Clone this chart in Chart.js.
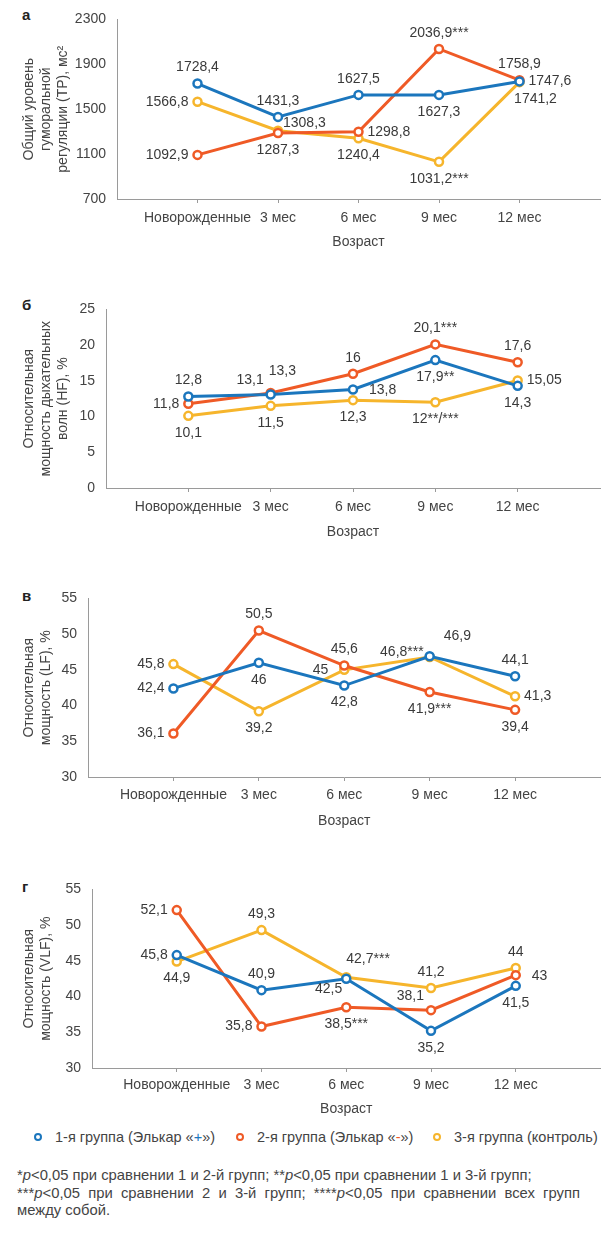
<!DOCTYPE html>
<html>
<head>
<meta charset="utf-8">
<script src="https://cdn.jsdelivr.net/npm/chart.js@4.4.0/dist/chart.umd.min.js"></script>
<style>
  body { margin: 0; background: #fff; font-family: "Liberation Sans", Arial, sans-serif; color: #444; }
  #page { position: relative; width: 607px; height: 1246px; overflow: hidden; }
  canvas { position: absolute; left: 0; }
  .letter { position: absolute; left: 22px; font-weight: bold; font-size: 15px; line-height: 18px; color: #222; }
  .legend { position: absolute; top: 1128px; left: 0; width: 607px; height: 18px; font-size: 14.5px; line-height: 18px; }
  .legend .mark { position: absolute; top: 5px; width: 4px; height: 4px; border-radius: 50%; border: 2.5px solid; background: #fff; }
  .legend .txt { position: absolute; top: 0; white-space: nowrap; }
  .note { position: absolute; left: 17px; width: 563px; font-size: 14.8px; line-height: 18px; white-space: nowrap; }
  .note.just { white-space: normal; text-align: justify; text-align-last: justify; }
</style>
</head>
<body>
<div id="page"></div>
<script>
// categories and series
const categories = ['Новорожденные', '3 мес', '6 мес', '9 мес', '12 мес'];
const groupNames = ['1-я группа (Элькар «+»)', '2-я группа (Элькар «-»)', '3-я группа (контроль)'];

// а: общий уровень гуморальной регуляции (ТР), мс2
const trGroup1 = [1728.4, 1431.3, 1627.5, 1627.3, 1747.6];
const trGroup2 = [1092.9, 1287.3, 1298.8, 2036.9, 1758.9];
const trGroup3 = [1566.8, 1308.3, 1240.4, 1031.2, 1741.2];
const trMarks = [['', '', '', '', ''], ['', '', '', '***', ''], ['', '', '', '***', '']];
const trTicks = [700, 1100, 1500, 1900, 2300];

// б: HF, %
const hfGroup1 = [12.8, 13.1, 13.8, 17.9, 14.3];
const hfGroup2 = [11.8, 13.3, 16, 20.1, 17.6];
const hfGroup3 = [10.1, 11.5, 12.3, 12, 15.05];
const hfMarks = [['', '', '', '**', ''], ['', '', '', '***', ''], ['', '', '', '**/***', '']];
const hfTicks = [0, 5, 10, 15, 20, 25];

// в: LF, %
const lfGroup1 = [42.4, 46, 42.8, 46.9, 44.1];
const lfGroup2 = [36.1, 50.5, 45.6, 41.9, 39.4];
const lfGroup3 = [45.8, 39.2, 45, 46.8, 41.3];
const lfMarks = [['', '', '', '', ''], ['', '', '', '***', ''], ['', '', '', '***', '']];
const lfTicks = [30, 35, 40, 45, 50, 55];

// г: VLF, %
const vlfGroup1 = [45.8, 40.9, 42.5, 35.2, 41.5];
const vlfGroup2 = [52.1, 35.8, 38.5, 38.1, 43];
const vlfGroup3 = [44.9, 49.3, 42.7, 41.2, 44];
const vlfMarks = [['', '', '', '', ''], ['', '', '***', '', ''], ['', '', '***', '', '']];
const vlfTicks = [30, 35, 40, 45, 50, 55];

// styling
const colors = ['#1b76bd', '#ef5a26', '#f6b52c'];
const textColor = '#444';
const axisColor = '#9a9a9a';
const fontFamily = '"Liberation Sans", Arial, sans-serif';

// where each value label sits relative to its point
const labelOffsets = {
    t: { dx: 0, dy: -16, align: 'center' },
    b: { dx: 0, dy: 17, align: 'center' },
    l: { dx: -9, dy: 0, align: 'right' },
    r: { dx: 9, dy: 0, align: 'left' },
    l2: { dx: -16, dy: 0, align: 'right' },
    r2: { dx: 16, dy: 1, align: 'left' },
    tl: { dx: -7, dy: -14, align: 'right' },
    ru: { dx: 5, dy: -8, align: 'left' },
    br: { dx: 16, dy: 17, align: 'center' },
    bl: { dx: -4, dy: 10, align: 'right' },
};

const panels = [
    {
        letter: 'а', series: [trGroup1, trGroup2, trGroup3], marks: trMarks, ticks: trTicks,
        yTitle: ['Общий уровень', 'гуморальной', 'регуляции (ТР), мс²'],
        pos: [['t', 't', 't', 'b', 'r'], ['l', 'b', 'r', 't', 't'], ['l', 'ru', 'b', 'b', 'br']],
        box: { top: 18, bottom: 199, left: 117, tickY: 217, titleY: 243, letterY: 15 },
    },
    {
        letter: 'б', series: [hfGroup1, hfGroup2, hfGroup3], marks: hfMarks, ticks: hfTicks,
        yTitle: ['Относительная', 'мощность дыхательных', 'волн (HF), %'],
        pos: [['t', 'tl', 'r2', 'b', 'b'], ['l', [-2, -22, 'left'], 't', 't', 't'], ['b', 'b', 'b', 'b', 'r']],
        box: { top: 308, bottom: 488, left: 106, tickY: 506, titleY: 533, letterY: 305 },
    },
    {
        letter: 'в', series: [lfGroup1, lfGroup2, lfGroup3], marks: lfMarks, ticks: lfTicks,
        yTitle: ['Относительная', 'мощность (LF), %'],
        pos: [['l', 'b', 'b', [14, -20, 'left'], 't'], ['l', 't', 't', 'b', 'b'], ['l', 'b', 'l2', [-6, -5, 'right'], 'r']],
        box: { top: 597, bottom: 777, left: 88, tickY: 794, titleY: 822, letterY: 596 },
    },
    {
        letter: 'г', series: [vlfGroup1, vlfGroup2, vlfGroup3], marks: vlfMarks, ticks: vlfTicks,
        yTitle: ['Относительная', 'мощность (VLF), %'],
        pos: [['l', 't', 'bl', 'b', 'b'], ['l', 'l', 'b', 'tl', 'r2'], ['b', 't', [0, -18, 'left'], 't', 't']],
        box: { top: 888, bottom: 1068, left: 92, tickY: 1084, titleY: 1110, letterY: 887 },
    },
];

const fmt = v => String(v).replace('.', ',');

const pointLabels = {
    id: 'pointLabels',
    afterDatasetsDraw(chart) {
        const ctx = chart.ctx;
        ctx.save();
        ctx.font = '14px ' + fontFamily;
        ctx.fillStyle = '#3a3a3a';
        ctx.textBaseline = 'middle';
        chart.data.datasets.forEach((ds, di) => {
            chart.getDatasetMeta(di).data.forEach((pt, i) => {
                const p = ds.labelPos[i];
                const o = Array.isArray(p) ? { dx: p[0], dy: p[1], align: p[2] } : labelOffsets[p];
                ctx.textAlign = o.align;
                ctx.fillText(ds.labelText[i], pt.x + o.dx, pt.y + o.dy);
            });
        });
        ctx.restore();
    }
};

Chart.defaults.font.family = fontFamily;
Chart.defaults.color = textColor;

const page = document.getElementById('page');

panels.forEach(panel => {
    const b = panel.box;
    const canvasTop = b.top - 18;
    const height = Math.round(b.titleY + 8.4 - canvasTop);
    const xHeight = height - (b.bottom - canvasTop);

    const letter = document.createElement('div');
    letter.className = 'letter';
    letter.style.top = (b.letterY - 9) + 'px';
    letter.textContent = panel.letter;
    page.appendChild(letter);

    const canvas = document.createElement('canvas');
    canvas.width = 607;
    canvas.height = height;
    canvas.style.top = canvasTop + 'px';
    page.appendChild(canvas);

    const ticks = panel.ticks;
    new Chart(canvas.getContext('2d'), {
        type: 'line',
        data: {
            datasets: panel.series.map((values, si) => ({
                label: groupNames[si],
                data: values.map((v, i) => ({ x: i, y: v })),
                labelText: values.map((v, i) => fmt(v) + panel.marks[si][i]),
                labelPos: panel.pos[si],
                borderColor: colors[si],
                borderWidth: 3,
                pointBackgroundColor: '#fff',
                pointBorderColor: colors[si],
                pointBorderWidth: 2.5,
                pointRadius: 4,
                tension: 0,
                clip: false,
            })),
        },
        options: {
            responsive: false,
            animation: false,
            layout: { padding: { top: 18, left: 0, right: 0, bottom: 0 } },
            plugins: { legend: { display: false }, tooltip: { enabled: false } },
            scales: {
                x: {
                    type: 'linear',
                    min: -1,
                    max: categories.length,
                    afterFit: s => { s.height = xHeight; },
                    ticks: {
                        stepSize: 1,
                        autoSkip: false,
                        maxRotation: 0,
                        padding: b.tickY - b.bottom - 11,
                        font: { size: 14 },
                        callback: v => categories[v] ?? '',
                    },
                    grid: {
                        drawOnChartArea: false,
                        drawTicks: true,
                        tickLength: 4,
                        color: c => (c.tick && c.tick.value >= 0 && c.tick.value < categories.length) ? axisColor : 'rgba(0,0,0,0)',
                    },
                    border: { color: axisColor, width: 1 },
                    title: { display: true, text: 'Возраст', font: { size: 14 }, padding: 0 },
                },
                y: {
                    min: ticks[0],
                    max: ticks[ticks.length - 1],
                    afterFit: s => { s.width = b.left; },
                    ticks: {
                        stepSize: ticks[1] - ticks[0],
                        padding: 11,
                        font: { size: 14 },
                        callback: v => String(v),
                    },
                    grid: { display: false, drawTicks: false },
                    border: { color: axisColor, width: 1 },
                    title: {
                        display: true,
                        text: panel.yTitle,
                        font: { size: 14, lineHeight: 17 / 14 },
                        padding: { top: 21, bottom: 0 },
                    },
                },
            },
        },
        plugins: [pointLabels],
    });
});

// legend
const legend = document.createElement('div');
legend.className = 'legend';
const markX = [38, 240, 437];
groupNames.forEach((name, i) => {
    const m = document.createElement('div');
    m.className = 'mark';
    m.style.left = (markX[i] - 4.5) + 'px';
    m.style.borderColor = colors[i];
    legend.appendChild(m);
    const t = document.createElement('div');
    t.className = 'txt';
    t.style.left = (markX[i] + 17) + 'px';
    t.innerHTML = name.replace(/«(.)»/, '«<span style="color:' + colors[i] + '">$1</span>»');
    legend.appendChild(t);
});
page.appendChild(legend);

// footnote
const notes = [
    { top: 1166, cls: 'note', html: '*<i>p</i>&lt;0,05 при сравнении 1 и 2-й групп; **<i>p</i>&lt;0,05 при сравнении 1 и 3-й групп;' },
    { top: 1184, cls: 'note just', html: '***<i>p</i>&lt;0,05 при сравнении 2 и 3-й групп; ****<i>p</i>&lt;0,05 при сравнении всех групп' },
    { top: 1201, cls: 'note', html: 'между собой.' },
];
notes.forEach(n => {
    const d = document.createElement('div');
    d.className = n.cls;
    d.style.top = n.top + 'px';
    d.innerHTML = n.html;
    page.appendChild(d);
});
</script>
</body>
</html>
